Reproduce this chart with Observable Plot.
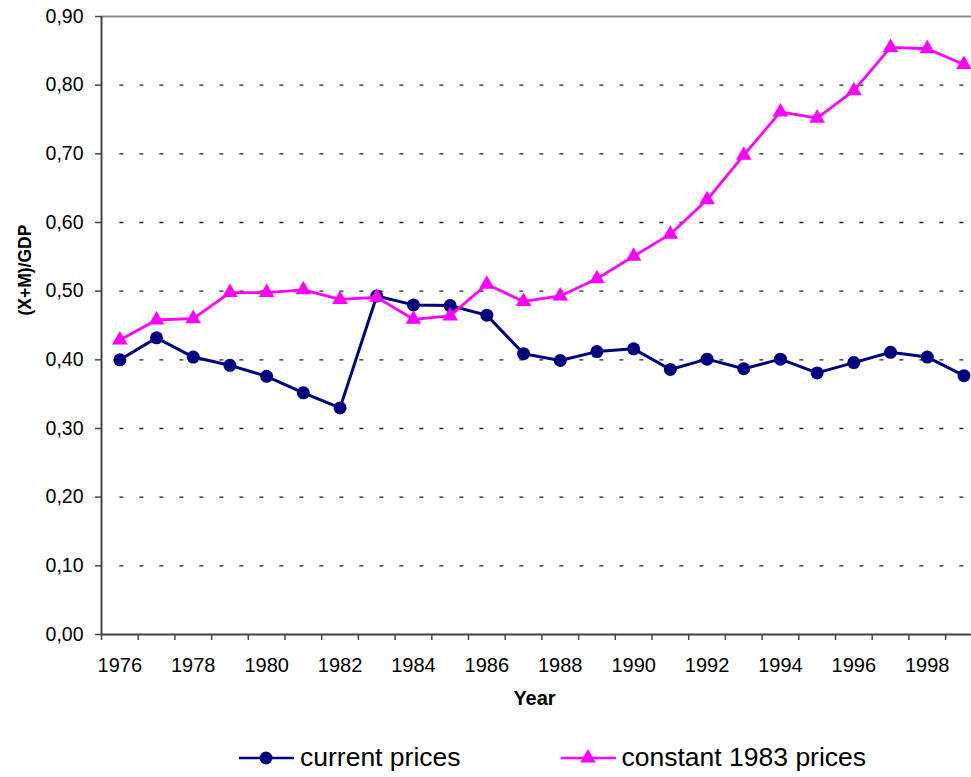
<!DOCTYPE html>
<html><head><meta charset="utf-8">
<script src="https://cdn.jsdelivr.net/npm/d3@7"></script>
<script src="https://cdn.jsdelivr.net/npm/@observablehq/plot@0.6"></script>
<style>
html,body{margin:0;padding:0;background:#fff;overflow:hidden;}
#chart svg{display:block;overflow:visible;}
.legend{height:57px;box-sizing:border-box;font-family:"Liberation Sans",Arial,sans-serif;font-size:26.5px;color:#000;display:flex;align-items:center;padding-left:239px;padding-top:18px;gap:100px;}
.item{display:flex;align-items:center;gap:6px;}
</style></head><body>
<div id="chart"></div>
<div class="legend" id="legend"></div>
<script>
const years = [1976,1977,1978,1979,1980,1981,1982,1983,1984,1985,1986,1987,1988,1989,1990,1991,1992,1993,1994,1995,1996,1997,1998,1999];
const currentPrices = [0.400,0.432,0.404,0.392,0.376,0.352,0.330,0.493,0.480,0.479,0.465,0.409,0.399,0.412,0.416,0.386,0.401,0.387,0.401,0.381,0.396,0.411,0.404,0.377];
const constantPrices = [0.429,0.458,0.460,0.498,0.498,0.502,0.488,0.491,0.459,0.464,0.510,0.485,0.493,0.518,0.551,0.583,0.633,0.698,0.761,0.752,0.792,0.855,0.853,0.830];
const yTicks = [0,0.1,0.2,0.3,0.4,0.5,0.6,0.7,0.8,0.9];
const xTickLabels = [1976,1978,1980,1982,1984,1986,1988,1990,1992,1994,1996,1998];
const seriesNames = ["current prices","constant 1983 prices"];
const seriesColors = ["#000080","#FF00FF"];
const xTitle = "Year";
const yTitle = "(X+M)/GDP";

const font = '"Liberation Sans", Arial, sans-serif';
const current = years.map((y,i)=>({year:y, value:currentPrices[i]}));
const constant = years.map((y,i)=>({year:y, value:constantPrices[i]}));
const boundaries = years.map(y=>y-0.5).concat([years[years.length-1]+0.5]);
const gridVals = yTicks.filter(v=>v>0 && v<0.9);
const fmt = d=>d.toFixed(2).replace(".", ",");

const chart = Plot.plot({
  width: 971,
  height: 720,
  marginLeft: 101,
  marginRight: 0,
  marginTop: 16,
  marginBottom: 86,
  style: {fontFamily: font, background: "#fff", color: "#000"},
  x: {domain: [years[0]-0.5, years[years.length-1]+0.5], range: [101, 981.8], label: null},
  y: {domain: [0, 0.9], label: null},
  marks: [
    Plot.ruleY(gridVals, {x1: years[0], x2: years[years.length-1]+0.5, stroke: "#222", strokeWidth: 1.3, strokeDasharray: "4,16"}),
    Plot.ruleY([0.9], {stroke: "#8c8c8c", strokeWidth: 2}),
    Plot.ruleX([years[0]-0.5], {y1: 0, y2: 0.9, stroke: "#444", strokeWidth: 2}),
    Plot.ruleY([0], {stroke: "#444", strokeWidth: 2}),
    Plot.axisX({ticks: boundaries, tickSize: 6, tickFormat: () => "", stroke: "#444", strokeWidth: 1.5}),
    Plot.axisX({ticks: xTickLabels, tickSize: 0, tickPadding: 23, tickFormat: d => String(d), fontSize: 20, fill: "#000"}),
    Plot.axisY({ticks: yTicks, tickSize: 6, tickPadding: 12, tickFormat: fmt, fontSize: 19.5, stroke: "#444", strokeWidth: 1.5, fill: "#000"}),
    Plot.text([xTitle], {frameAnchor: "bottom", dy: 70, dx: -2, text: d=>d, fontSize: 20, fontWeight: "bold", fill: "#000"}),
    Plot.text([yTitle], {frameAnchor: "left", dx: -76.5, dy: -10, rotate: -90, text: d=>d, fontSize: 17.5, fontWeight: "bold", fill: "#000"}),
    Plot.line(current, {x: "year", y: "value", stroke: seriesColors[0], strokeWidth: 3}),
    Plot.dot(current, {x: "year", y: "value", r: 6.5, fill: seriesColors[0]}),
    Plot.line(constant, {x: "year", y: "value", stroke: seriesColors[1], strokeWidth: 2.8}),
    Plot.dot(constant, {x: "year", y: "value", symbol: "triangle", r: 5.8, fill: seriesColors[1]})
  ]
});
document.getElementById("chart").appendChild(chart);

const legend = document.getElementById("legend");
seriesNames.forEach((name, i) => {
  const item = document.createElement("div");
  item.className = "item";
  const marker = i === 0
    ? `<circle cx="27" cy="10" r="6.5" fill="${seriesColors[i]}"/>`
    : `<path d="${d3.symbol(d3.symbolTriangle, Math.PI*5.8*5.8)()}" transform="translate(27,10)" fill="${seriesColors[i]}"/>`;
  item.innerHTML = `<svg width="55" height="20"><line x1="0" x2="55" y1="10" y2="10" stroke="${seriesColors[i]}" stroke-width="2.5"/>${marker}</svg><span>${name}</span>`;
  legend.appendChild(item);
});
</script>
</body></html>
